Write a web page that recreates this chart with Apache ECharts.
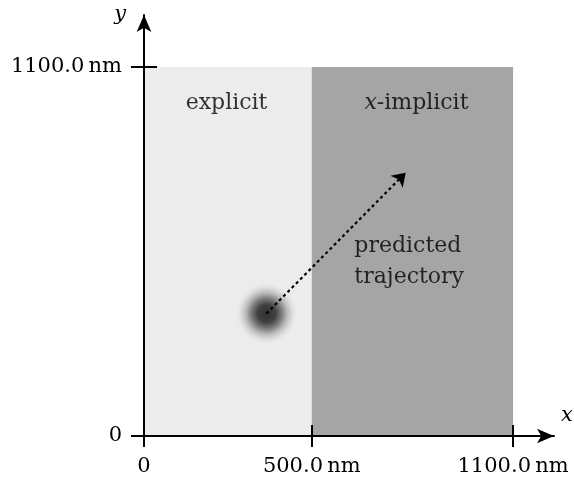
<!DOCTYPE html>
<html><head><meta charset="utf-8">
<script src="https://cdn.jsdelivr.net/npm/echarts@6/dist/echarts.min.js"></script>
<style>html,body{margin:0;padding:0;background:#fff}#c{width:574px;height:487px}</style>
</head><body><div id="c"></div>
<script>
// ---- data ----
const xTicks = [0, 500, 1100];
const yTicks = [0, 1100];
const xTickLabels = ['0', '500.0\u2009nm', '1100.0\u2009nm'];
const yTickLabels = ['0', '1100.0\u2009nm'];
const explicitRegion = [[0, 0], [500, 1100]];
const implicitRegion = [[500, 0], [1100, 1100]];
const particle = [365, 365];
const trajectoryEnd = [780, 785];
const regionLabels = [
  { name: 'explicit', pos: [246, 992] },
  { name: 'x-implicit', pos: [812, 992] }
];
const trajLabel = { text: 'predicted\ntrajectory', pos: [627, 518] };

const FONT = 'DejaVu Serif';
const FS = 21;
const FS_IN = 22;
const xMax = 1222, yMax = 1255;

function fmt(list, labels) {
  return function (v) { const i = list.indexOf(v); return i >= 0 ? labels[i] : ''; };
}

const chart = echarts.init(document.getElementById('c'), null, { renderer: 'canvas' });
chart.setOption({
  animation: false,
  grid: { left: 144, right: 574 - 554, top: 15, bottom: 487 - 436, containLabel: false, outerBoundsMode: 'none' },
  xAxis: [{
    type: 'value', min: 0, max: xMax,
    axisLine: { show: true, lineStyle: { color: '#000', width: 2 }, symbol: ['none', 'arrow'], symbolSize: [11, 17] },
    axisTick: { show: true, inside: false, length: 11, lineStyle: { color: '#000', width: 2 }, customValues: xTicks },
    axisLabel: { show: true, margin: 20, color: '#000', fontFamily: FONT, fontSize: FS, customValues: xTicks, formatter: fmt(xTicks, xTickLabels) },
    splitLine: { show: false },
    name: 'x', nameLocation: 'end', nameGap: 7,
    nameTextStyle: { fontFamily: FONT, fontStyle: 'italic', fontSize: FS, color: '#000', align: 'left', verticalAlign: 'bottom', padding: [0, 0, 10, 0] },
    z: 10
  }, {
    type: 'value', min: 0, max: xMax, gridIndex: 0, position: 'bottom',
    axisLine: { show: false },
    axisTick: { show: true, inside: true, length: 11, lineStyle: { color: '#000', width: 2 }, customValues: [500, 1100] },
    axisLabel: { show: false },
    splitLine: { show: false },
    z: 10
  }],
  yAxis: [{
    type: 'value', min: 0, max: yMax,
    axisLine: { show: true, lineStyle: { color: '#000', width: 2 }, symbol: ['none', 'arrow'], symbolSize: [11, 17] },
    axisTick: { show: true, inside: false, length: 13, lineStyle: { color: '#000', width: 2 }, customValues: yTicks },
    axisLabel: { show: true, margin: 22, color: '#000', fontFamily: FONT, fontSize: FS, customValues: yTicks, formatter: fmt(yTicks, yTickLabels) },
    splitLine: { show: false },
    name: 'y', nameLocation: 'end', nameGap: 0,
    nameTextStyle: { fontFamily: FONT, fontStyle: 'italic', fontSize: FS, color: '#000', padding: [0, 18, 4, 0], align: 'right', verticalAlign: 'middle' },
    z: 10
  }, {
    type: 'value', min: 0, max: yMax, gridIndex: 0, position: 'left',
    axisLine: { show: false },
    axisTick: { show: true, inside: true, length: 13, lineStyle: { color: '#000', width: 2 }, customValues: [1100] },
    axisLabel: { show: false },
    splitLine: { show: false },
    z: 10
  }],
  series: [
    {
      type: 'scatter', data: [], z: 1,
      markArea: {
        silent: true,
        data: [
          [{ coord: explicitRegion[0], itemStyle: { color: '#ececec' } }, { coord: explicitRegion[1] }],
          [{ coord: implicitRegion[0], itemStyle: { color: '#a5a5a5' } }, { coord: implicitRegion[1] }]
        ]
      }
    },
    {
      type: 'scatter', z: 3, symbol: 'circle', symbolSize: 60,
      data: [particle],
      itemStyle: {
        color: new echarts.graphic.RadialGradient(0.5, 0.5, 0.5, [
          { offset: 0, color: 'rgba(0,0,0,1)' },
          { offset: 0.3, color: 'rgba(0,0,0,0.9)' },
          { offset: 0.5, color: 'rgba(0,0,0,0.6)' },
          { offset: 0.7, color: 'rgba(0,0,0,0.25)' },
          { offset: 0.88, color: 'rgba(0,0,0,0.06)' },
          { offset: 1, color: 'rgba(0,0,0,0)' }
        ])
      }
    },
    {
      type: 'lines', coordinateSystem: 'cartesian2d', z: 4,
      symbol: ['none', 'arrow'], symbolSize: 13,
      lineStyle: { color: '#000', width: 2.2, type: [3, 3], opacity: 1 },
      data: [{ coords: [particle, trajectoryEnd] }]
    },
    {
      type: 'scatter', z: 5, symbolSize: 0,
      data: regionLabels.map(r => ({ value: r.pos, name: r.name })),
      label: {
        show: true, position: 'inside', color: '#000', fontFamily: FONT, fontSize: FS_IN,
        formatter: p => p.name === 'x-implicit' ? '{i|x}{n|-implicit}' : '{n|' + p.name + '}',
        rich: {
          i: { fontFamily: FONT, fontStyle: 'italic', fontSize: FS_IN, color: '#000' },
          n: { fontFamily: FONT, fontSize: FS_IN, color: '#000' }
        }
      }
    },
    {
      type: 'scatter', z: 5, symbolSize: 0,
      data: [{ value: trajLabel.pos, name: trajLabel.text }],
      label: {
        show: true, position: 'inside', align: 'left', color: '#000', fontFamily: FONT, fontSize: FS_IN, lineHeight: 31,
        formatter: p => p.name
      }
    }
  ]
});
</script></body></html>
